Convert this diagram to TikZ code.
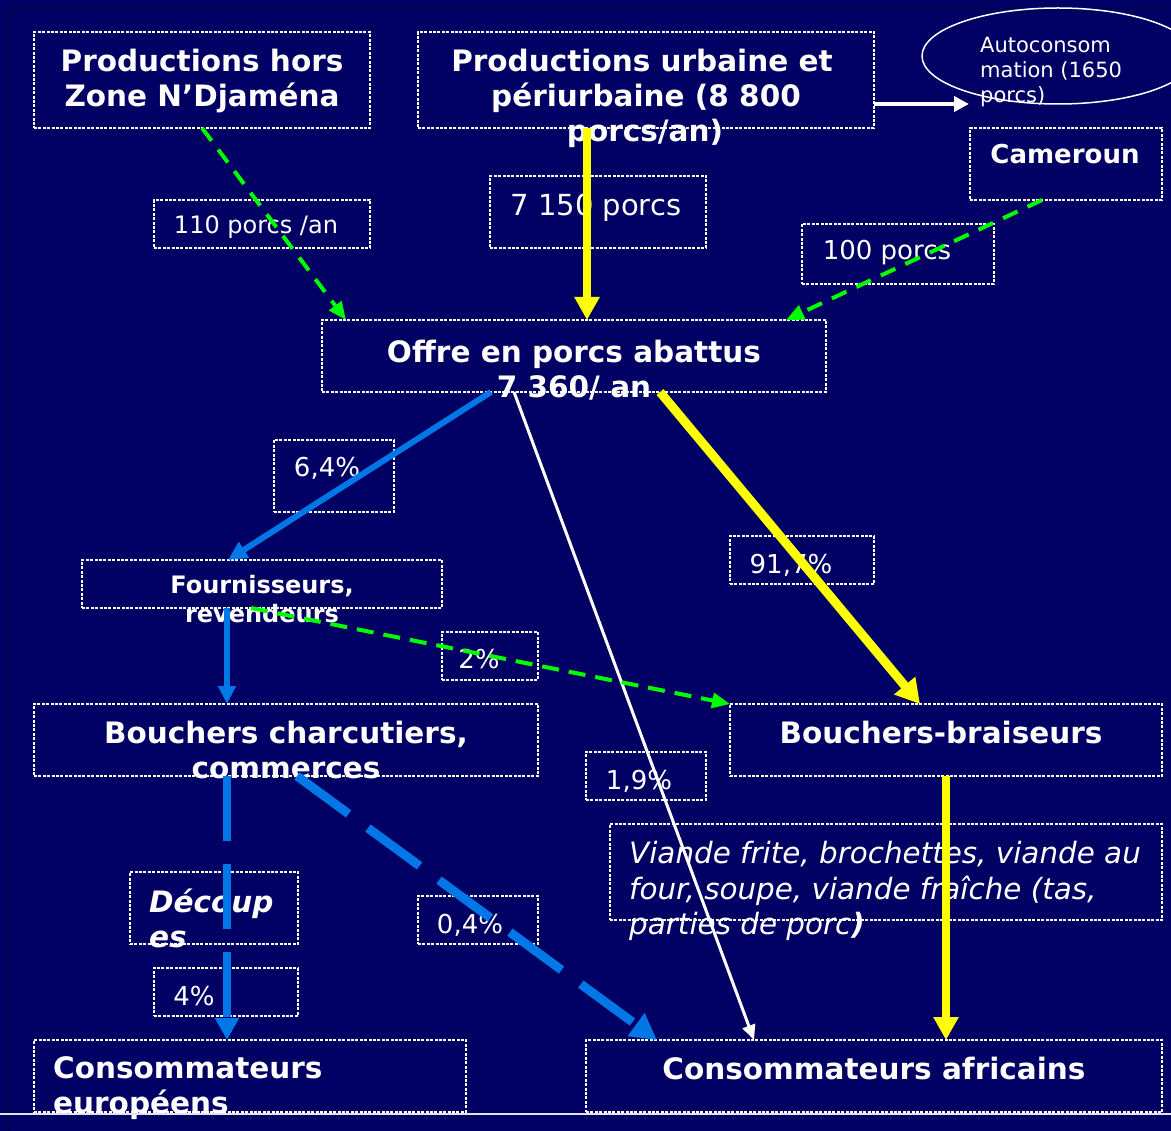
\documentclass[tikz,border=0pt]{standalone}
\usepackage{fontspec}
\setmainfont{DejaVu Sans}
\usetikzlibrary{arrows.meta,shapes.geometric}
\definecolor{bgc}{RGB}{0,0,100}
\definecolor{arrblue}{RGB}{0,119,230}
\definecolor{arrgreen}{RGB}{0,255,0}
\definecolor{arryellow}{RGB}{255,255,0}
\definecolor{botline}{RGB}{225,225,240}
\begin{document}
\begin{tikzpicture}[x=1pt,y=-1pt,
  box/.style={draw=white, line width=2.4pt, dash pattern=on 3pt off 1.4pt, rectangle, inner sep=0pt, outer sep=0pt},
  bt/.style={text=white, font=\fontsize{29.5}{35}\selectfont\bfseries, inner sep=0pt, anchor=base},
  btm/.style={text=white, font=\fontsize{26}{31}\selectfont\bfseries, inner sep=0pt, anchor=base},
  bts/.style={text=white, font=\fontsize{24}{28}\selectfont\bfseries, inner sep=0pt, anchor=base},
  lab/.style={text=white, font=\fontsize{26}{31}\selectfont, inner sep=0pt, anchor=base},
  labs/.style={text=white, font=\fontsize{24}{28}\selectfont, inner sep=0pt, anchor=base},
  labl/.style={text=white, font=\fontsize{29}{35}\selectfont, inner sep=0pt, anchor=base},
  itl/.style={text=white, font=\fontsize{29.4}{35}\selectfont\itshape, inner sep=0pt, anchor=base west},
  auto/.style={text=white, font=\fontsize{21}{25}\selectfont, inner sep=0pt, anchor=base west},
  gflow/.style={draw=arrgreen, line width=4pt, dash pattern=on 16pt off 11pt, -{Triangle[length=18pt,width=15pt]}},
  yflow/.style={draw=arryellow, line width=8pt, -{Triangle[length=23pt,width=24pt]}},
  bflow/.style={draw=arrblue, line width=6pt, -{Triangle[length=19pt,width=18pt]}},
  wflow/.style={draw=white, line width=3pt, -{Triangle[length=15pt,width=13pt]}}
]
\useasboundingbox (0,0) rectangle (1171,1131);
\clip (0,0) rectangle (1171,1131);
\fill[bgc] (0,0) rectangle (1171,1131);
\draw[black, line width=1pt, dash pattern=on 1pt off 1pt] (9,1131) -- (9,9) -- (1171,9);

% boxes
\node[box, minimum width=336pt, minimum height=96pt] (hors) at (202,80) {};
\node[box, minimum width=456pt, minimum height=96pt] (urb) at (646,80) {};
\node[draw=white, line width=1.5pt, ellipse, inner sep=0pt, minimum width=272pt, minimum height=96pt] (auto) at (1058,56) {};
\node[box, minimum width=192pt, minimum height=72pt] (cam) at (1066,164) {};
\node[box, minimum width=216pt, minimum height=48pt] (b110) at (262,224) {};
\node[box, minimum width=216pt, minimum height=72pt] (b7150) at (598,212) {};
\node[box, minimum width=192pt, minimum height=60pt] (b100) at (898,254) {};
\node[box, minimum width=504pt, minimum height=72pt] (offre) at (574,356) {};
\node[box, minimum width=120pt, minimum height=72pt] (b64) at (334,476) {};
\node[box, minimum width=360pt, minimum height=48pt] (four) at (262,584) {};
\node[box, minimum width=144pt, minimum height=48pt] (b917) at (802,560) {};
\node[box, minimum width=96pt, minimum height=48pt] (b2) at (490,656) {};
\node[box, minimum width=504pt, minimum height=72pt] (bcharc) at (286,740) {};
\node[box, minimum width=432pt, minimum height=72pt] (bbrai) at (946,740) {};
\node[box, minimum width=120pt, minimum height=48pt] (b19) at (646,776) {};
\node[box, minimum width=552pt, minimum height=96pt] (viande) at (886,872) {};
\node[box, minimum width=168pt, minimum height=72pt] (decoup) at (214,908) {};
\node[box, minimum width=120pt, minimum height=48pt] (b04) at (478,920) {};
\node[box, minimum width=144pt, minimum height=48pt] (b4) at (226,992) {};
\node[box, minimum width=432pt, minimum height=72pt] (ceur) at (250,1076) {};
\node[box, minimum width=576pt, minimum height=72pt] (cafr) at (874,1076) {};

% texts
\node[bt] (thorsa) at (202,72) {Productions hors};
\node[bt] (thorsb) at (202,107) {Zone N’Djaména};
\node[bt] (turba) at (642,72) {Productions urbaine et};
\node[bt] (turbb) at (646,107) {périurbaine (8 800};
\node[bt] (turbc) at (645,142) {porcs/an)};
\node[auto] (tauta) at (980,53) {Autoconsom};
\node[auto] (tautb) at (980,78) {mation (1650};
\node[auto] (tautc) at (980,103) {porcs)};
\node[btm] (tcam) at (1065,164) {Cameroun};
\node[labs] (t110) at (256,234) {110 porcs /an};
\node[labl] (t7150) at (596,216) {7 150 porcs};
\node[lab] (t100) at (887,260) {100 porcs};
\node[bt] (toffa) at (574,363) {Offre en porcs abattus};
\node[bt] (toffb) at (574,398) {7 360/ an};
\node[lab] (t64) at (327,477) {6,4\%};
\node[bts] (tfoura) at (262,594) {Fournisseurs,};
\node[bts] (tfourb) at (262,622) {revendeurs};
\node[lab] (t917) at (791,573) {91,7\%};
\node[lab] (t2) at (479,668) {2\%};
\node[bt] (tbcha) at (286,743) {Bouchers charcutiers,};
\node[bt] (tbchb) at (286,778) {commerces};
\node[bt] (tbbr) at (941,743) {Bouchers-braiseurs};
\node[lab] (t19) at (639,789) {1,9\%};
\node[itl] (tvia) at (629,863) {Viande frite, brochettes, viande au};
\node[itl] (tvib) at (629,899) {four, soupe, viande fraîche (tas,};
\node[itl] (tvic) at (629,934) {parties de porc\textbf{)}};
\node[bt, anchor=base west, font=\fontsize{29.5}{35}\selectfont\bfseries\itshape] (tdeca) at (149,912) {Découp};
\node[bt, anchor=base west, font=\fontsize{29.5}{35}\selectfont\bfseries\itshape] (tdecb) at (149,947) {es};
\node[lab] (t04) at (470,933) {0,4\%};
\node[lab] (t4) at (194,1005) {4\%};
\node[bt, anchor=base west] (tceua) at (53,1078) {Consommateurs};
\node[bt, anchor=base west] (tceub) at (53,1113) {européens};
\node[bt] (tcaf) at (874,1079) {Consommateurs africains};

% connectors
\coordinate (autotip) at (969,104);
\draw[draw=white, line width=4pt, -{Triangle[length=15pt,width=15pt]}] ([yshift=-24pt]urb.east) -- (autotip);
\draw[gflow] (hors.south) -- ([xshift=24pt]offre.north west);
\draw[yflow] ([xshift=169pt]urb.south west) -- ([xshift=265pt]offre.north west);
\draw[gflow] ([xshift=72pt]cam.south west) -- ([xshift=-40pt]offre.north east);
\draw[bflow] ([xshift=169pt]offre.south west) -- ([xshift=146pt]four.north west);
\draw[wflow] ([xshift=192pt]offre.south west) -- ([xshift=168pt]cafr.north west);
\draw[yflow, line width=9pt, -{Triangle[length=24pt,width=26pt]}] ([xshift=338pt]offre.south west) -- ([xshift=190pt]bbrai.north west);
\draw[bflow, -{Triangle[length=18pt,width=17pt]}] ([xshift=145pt]four.south west) -- ([xshift=193pt]bcharc.north west);
\draw[gflow, dash pattern=on 17pt off 10pt] ([xshift=169pt]four.south west) -- (bbrai.north west);
\draw[bflow, line width=7.5pt, dash pattern=on 65pt off 23pt, -{Triangle[length=22pt,width=23pt]}] ([xshift=193pt]bcharc.south west) -- ([xshift=193pt]ceur.north west);
\draw[bflow, line width=9pt, dash pattern=on 64pt off 24pt, -{Triangle[length=26pt,width=27pt]}] ([xshift=263pt]bcharc.south west) -- ([xshift=71pt]cafr.north west);
\draw[yflow] ([xshift=216pt]bbrai.south west) -- ([xshift=360pt]cafr.north west);

\draw[botline, line width=2.5pt] (0,1114) -- (1171,1114);
\end{tikzpicture}
\end{document}
